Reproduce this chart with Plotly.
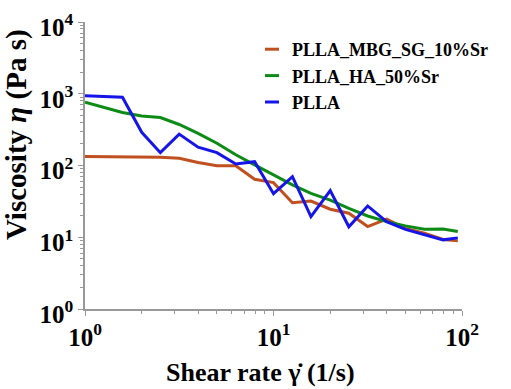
import plotly.graph_objects as go

shear_rate = [1, 1.58, 2, 2.51, 3.16, 3.98, 5.01, 6.31, 7.94, 10, 12.6, 15.8, 20, 25.1, 31.6, 39.8, 50.1, 63.1, 79.4, 95]
visc_mbg_sg = [133, 132, 131, 130, 126, 110, 99, 99, 64.4, 57.7, 30.3, 32, 24.6, 21.6, 14.1, 17.9, 13.3, 11.4, 9.3, 8.9]
visc_ha = [761, 548, 491, 466, 373, 281, 204, 141, 102, 74, 53.6, 40.8, 33, 25.2, 19.8, 16.5, 14.4, 12.9, 13.0, 12.0]
visc_plla = [935, 895, 290, 151, 274, 180, 151, 105, 113, 40.5, 70, 19.4, 44.6, 14, 27.3, 16.5, 12.9, 10.8, 9.2, 9.8]

series_names = ["PLLA_MBG_SG_10%Sr", "PLLA_HA_50%Sr", "PLLA"]
series_vals = [visc_mbg_sg, visc_ha, visc_plla]
colors = ["#C0501F", "#0E8B17", "#1515E8"]

x_tickvals = [1, 10, 100]
x_ticktext = ["10<sup>0</sup>", "10<sup>1</sup>", "10<sup>2</sup>"]
y_tickvals = [1, 10, 100, 1000, 10000]
y_ticktext = ["10<sup>0</sup>", "10<sup>1</sup>", "10<sup>2</sup>", "10<sup>3</sup>", "10<sup>4</sup>"]

x_title = "Shear rate γ̇ (1/s)"
y_title = "Viscosity <i>η</i> (Pa s)"

FONT = "Liberation Serif"
PLOT_W, PLOT_H = 377, 287


def minor_vals(decades):
    return [m * 10 ** d for d in range(decades) for m in range(2, 10)]


fig = go.Figure()
for name, vals, c in zip(series_names, series_vals, colors):
    fig.add_trace(go.Scatter(x=shear_rate, y=vals, mode="lines", name=name,
                             line=dict(color=c, width=3), showlegend=False))
    fig.add_trace(go.Scatter(x=[None], y=[None], mode="markers", name=name,
                             marker=dict(symbol="line-ew", size=10,
                                         line=dict(color=c, width=3)),
                             showlegend=True))

axis_common = dict(
    type="log", automargin=False,
    showline=True, linecolor="#999999", linewidth=1.5,
    ticks="outside", ticklen=5, tickcolor="#999999", tickwidth=1,
    showgrid=False, zeroline=False,
    tickfont=dict(family=FONT, size=25, color="black", weight="bold"),
)

fig.update_xaxes(range=[0, 2], tickvals=x_tickvals, ticktext=x_ticktext,
                 minor=dict(tickmode="array", tickvals=minor_vals(2), ticks="outside",
                            ticklen=3, tickcolor="#999999", tickwidth=1, showgrid=False),
                 **axis_common)
fig.update_yaxes(range=[0, 4], tickvals=y_tickvals, ticktext=y_ticktext,
                 ticklabelshift=5,
                 minor=dict(tickmode="array", tickvals=minor_vals(4), ticks="outside",
                            ticklen=3, tickcolor="#999999", tickwidth=1, showgrid=False),
                 **axis_common)

fig.add_annotation(text=x_title, xref="paper", yref="paper",
                   x=(260 - 85) / PLOT_W, y=(309 - 372) / PLOT_H,
                   xanchor="center", yanchor="middle", showarrow=False,
                   font=dict(family=FONT, size=26, color="black", weight="bold"))
fig.add_annotation(text=y_title, xref="paper", yref="paper",
                   x=(16 - 85) / PLOT_W, y=(309 - 135) / PLOT_H, textangle=-90,
                   xanchor="center", yanchor="middle", showarrow=False,
                   font=dict(family=FONT, size=29, color="black", weight="bold"))

fig.update_layout(
    width=511, height=389,
    margin=dict(l=85, r=49, t=22, b=80, autoexpand=False),
    paper_bgcolor="white", plot_bgcolor="white",
    legend=dict(x=(252 - 85) / PLOT_W, y=(309 - 31) / PLOT_H, xanchor="left", yanchor="top",
                bgcolor="rgba(0,0,0,0)", itemwidth=30, tracegroupgap=0,
                font=dict(family=FONT, size=18, color="black", weight="bold")),
)

fig.write_html("out.html",
               config={"displayModeBar": False},
               post_script="document.body.style.margin='0';document.body.style.overflow='hidden';")
